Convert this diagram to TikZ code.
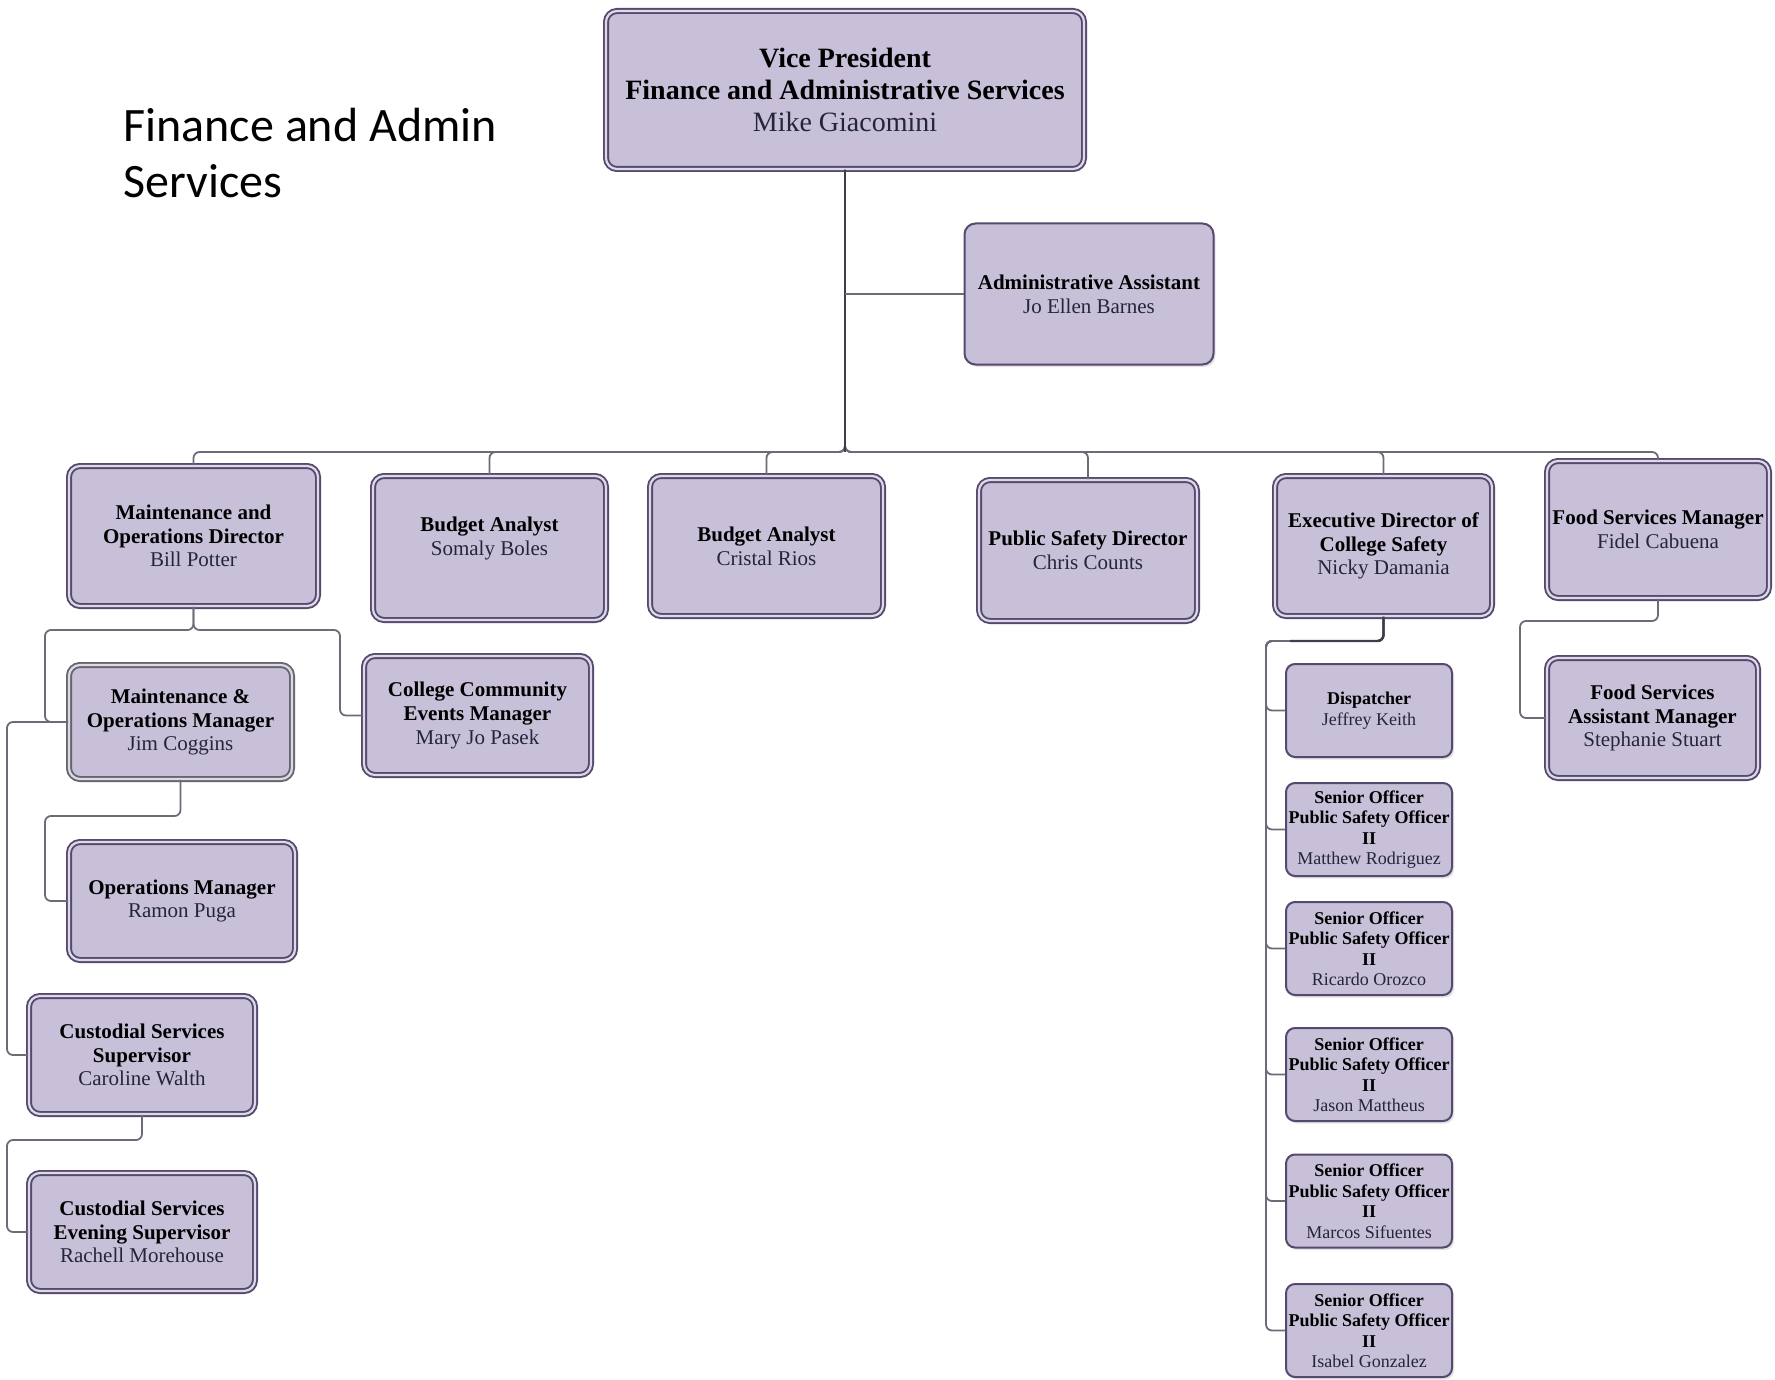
\documentclass[tikz,border=0pt]{standalone}
\usepackage{fontspec}
\setmainfont{Liberation Serif}
\newfontfamily\titlefont{Carlito}
\usetikzlibrary{shadows}
\definecolor{boxfill}{HTML}{C8BFD8}
\definecolor{boxline}{HTML}{56496E}
\definecolor{grayline}{HTML}{66666A}
\definecolor{conn}{HTML}{6C6C78}
\definecolor{stemcol}{HTML}{3E3E48}
\definecolor{namecol}{HTML}{23263A}
\newcommand{\pname}[1]{{\mdseries\color{namecol}#1}}
\tikzset{
  base/.style={rounded corners=11pt, fill=boxfill, align=center, inner sep=0pt,
    text=black, font=\bfseries\fontsize{21}{23.8}\selectfont,
    drop shadow={shadow xshift=2pt, shadow yshift=-2.5pt, opacity=0.18, fill=black!60}},
  dbl/.style={base, draw=boxline, double=boxfill!60!white, double distance=2.2pt, line width=1.9pt},
  dblgray/.style={dbl, draw=grayline},
  sgl/.style={base, draw=boxline, line width=2pt},
  small/.style={font=\bfseries\fontsize{18}{20.5}\selectfont, rounded corners=9pt},
  wire/.style={draw=conn, line width=1.8pt, rounded corners=6pt},
  stem/.style={draw=stemcol, line width=2.4pt, rounded corners=6pt},
}
\begin{document}
\begin{tikzpicture}[x=1pt,y=-1pt]
\useasboundingbox (0,0) rectangle (1775,1380);
% title
\node[anchor=base west, font=\titlefont\fontsize{48}{57}\selectfont] (t1) at (120,141.5) {Finance and Admin};
\node[anchor=base west, font=\titlefont\fontsize{48}{57}\selectfont] (t2) at (120,198) {Services};
% boxes
\node[dbl, minimum width=478pt, minimum height=158pt, font=\bfseries\fontsize{28}{31.7}\selectfont] (vp) at (845,90)
  {Vice President\\Finance and Administrative Services\\\pname{Mike Giacomini}};
\node[sgl, minimum width=249pt, minimum height=141pt] (admin) at (1089,294)
  {Administrative Assistant\\\pname{Jo Ellen Barnes}};
\node[dbl, minimum width=249pt, minimum height=140pt] (mod) at (193.5,536)
  {Maintenance and\\Operations Director\\\pname{Bill Potter}};
\node[dbl, minimum width=233pt, minimum height=144pt] (ba1) at (489.5,548)
  {Budget Analyst\\\pname{Somaly Boles}\\\mbox{}};
\node[dbl, minimum width=233pt, minimum height=140pt] (ba2) at (766.5,546)
  {Budget Analyst\\\pname{Cristal Rios}};
\node[dbl, minimum width=218pt, minimum height=141pt] (psd) at (1088,550.5)
  {Public Safety Director\\\pname{Chris Counts}};
\node[dbl, minimum width=217pt, minimum height=140pt] (edcs) at (1383.5,546)
  {Executive Director of\\College Safety\\\pname{Nicky Damania}};
\node[dbl, minimum width=222pt, minimum height=137pt] (fsm) at (1658,529.5)
  {Food Services Manager\\\pname{Fidel Cabuena}};
\node[dblgray, minimum width=223pt, minimum height=114pt] (jim) at (180.5,722)
  {Maintenance \&\\Operations Manager\\\pname{Jim Coggins}};
\node[dbl, minimum width=227pt, minimum height=119pt] (ccem) at (477.5,715.5)
  {College Community\\Events Manager\\\pname{Mary Jo Pasek}};
\node[dbl, minimum width=226pt, minimum height=118pt] (opsm) at (182,901)
  {Operations Manager\\\pname{Ramon Puga}};
\node[dbl, minimum width=226pt, minimum height=118pt] (cust) at (142,1055)
  {Custodial Services\\Supervisor\\\pname{Caroline Walth}};
\node[dbl, minimum width=226pt, minimum height=118pt] (custeve) at (142,1232)
  {Custodial Services\\Evening Supervisor\\\pname{Rachell Morehouse}};
\node[dbl, minimum width=211pt, minimum height=120pt] (fsam) at (1652.5,718)
  {Food Services\\Assistant Manager\\\pname{Stephanie Stuart}};
\node[sgl, small, minimum width=166pt, minimum height=93pt] (disp) at (1369,710.5)
  {Dispatcher\\\pname{Jeffrey Keith}};
\node[sgl, small, minimum width=166pt, minimum height=93pt] (so1) at (1369,829.5)
  {Senior Officer\\Public Safety Officer\\II\\\pname{Matthew Rodriguez}};
\node[sgl, small, minimum width=166pt, minimum height=93pt] (so2) at (1369,948.5)
  {Senior Officer\\Public Safety Officer\\II\\\pname{Ricardo Orozco}};
\node[sgl, small, minimum width=166pt, minimum height=93pt] (so3) at (1369,1074.5)
  {Senior Officer\\Public Safety Officer\\II\\\pname{Jason Mattheus}};
\node[sgl, small, minimum width=166pt, minimum height=93pt] (so4) at (1369,1201)
  {Senior Officer\\Public Safety Officer\\II\\\pname{Marcos Sifuentes}};
\node[sgl, small, minimum width=166pt, minimum height=93pt] (so5) at (1369,1330.5)
  {Senior Officer\\Public Safety Officer\\II\\\pname{Isabel Gonzalez}};
% connectors from VP
\coordinate (bus) at (845,452);
\foreach \c in {mod,ba1,ba2,psd,edcs,fsm}
  \draw[wire] (vp.south) -- (bus) -| (\c.north);
\draw[stem] (vp.south) -- (bus);
\draw[wire] (vp.south |- admin.west) -- (admin.west);
% maintenance director
\draw[wire] (mod.south) |- (45,630) |- (jim.west);
\draw[wire] (mod.south) |- (340,630) |- (ccem.west);
\draw[wire] (jim.south) |- (45,816) |- (opsm.west);
\draw[wire] (jim.west) -- (7,722) |- (cust.west);
\draw[wire] (cust.south) |- (7,1140) |- (custeve.west);
% executive director
\foreach \c in {disp,so1,so2,so3,so4,so5}
  \draw[wire] (edcs.south) |- (1266,641) |- (\c.west);
\draw[stem] (edcs.south) |- (1290,641);
% food services
\draw[wire] (fsm.south) |- (1520,621) |- (fsam.west);
\end{tikzpicture}
\end{document}
